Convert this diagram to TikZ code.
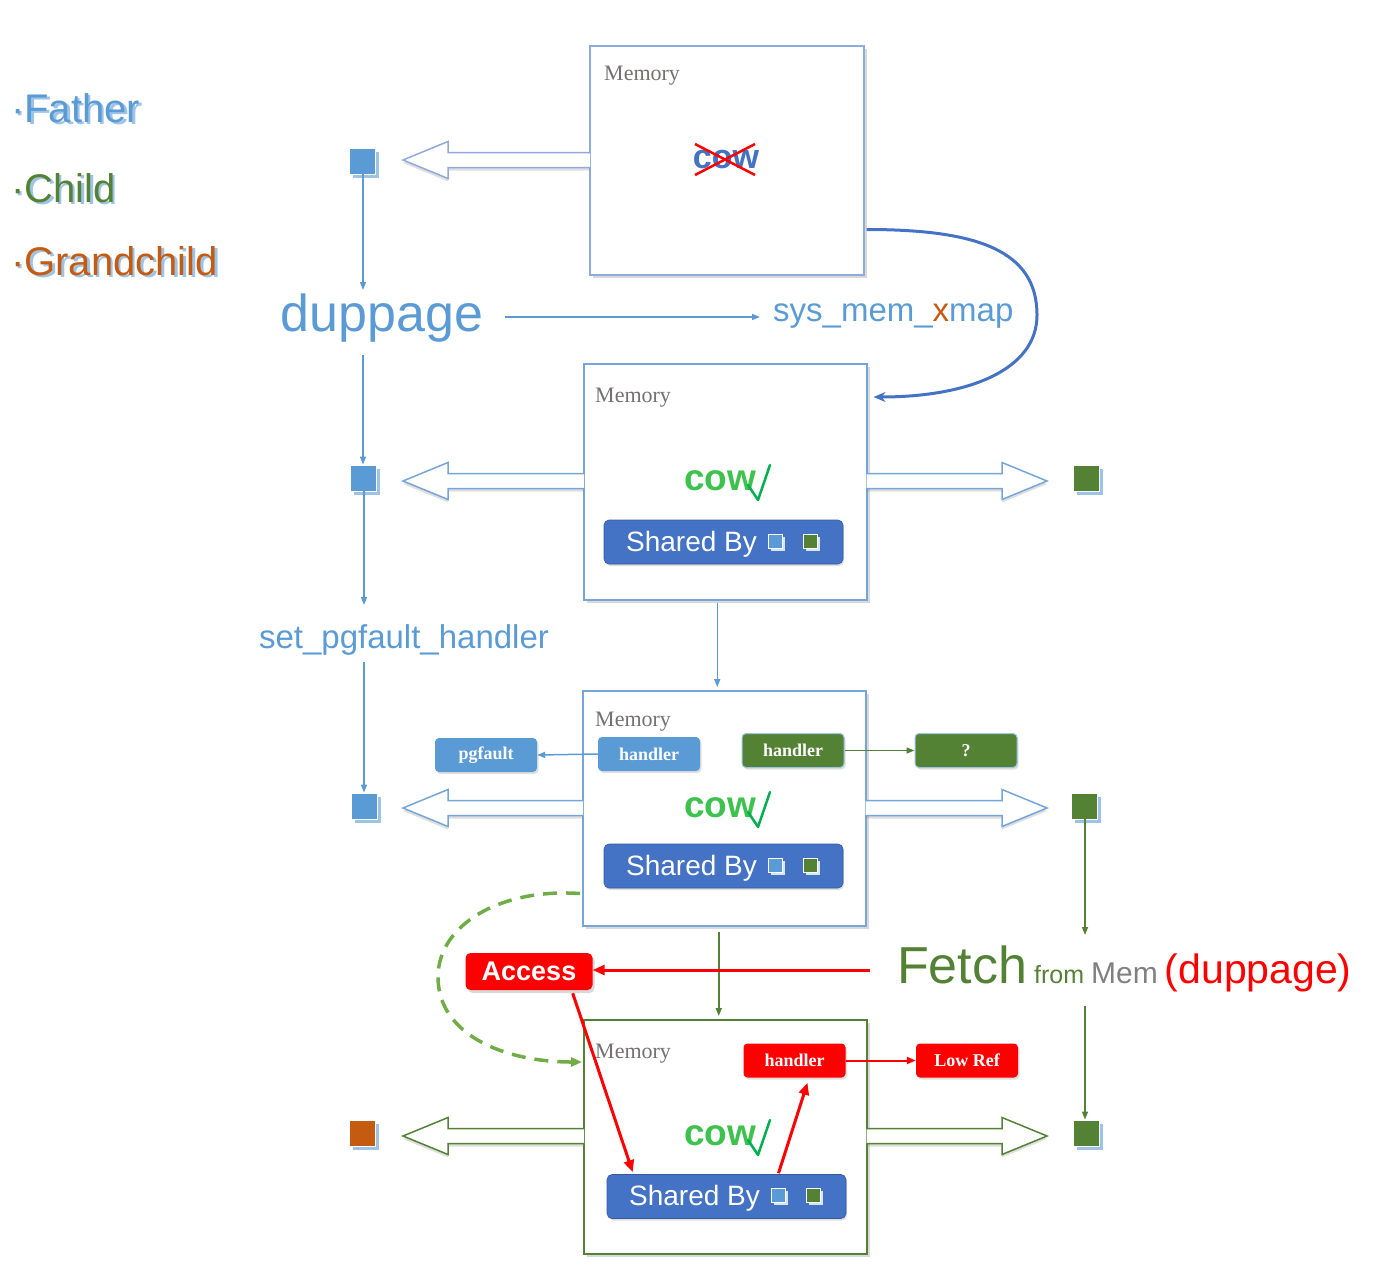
\documentclass[tikz,border=0pt]{standalone}
\usepackage{fontspec}
\setmainfont{Liberation Serif}
\setsansfont{Liberation Sans}
\usetikzlibrary{arrows.meta,calc,shadows}
\definecolor{fblue}{HTML}{5B9BD5}
\definecolor{dblue}{HTML}{4472C4}
\definecolor{bbord}{HTML}{8FAADC}
\definecolor{bbord2}{HTML}{75A5DA}
\definecolor{cgreen}{HTML}{548235}
\definecolor{lgreen}{HTML}{70AD47}
\definecolor{cowgreen}{HTML}{3EC24E}
\definecolor{chk}{HTML}{00B050}
\definecolor{gorange}{HTML}{C55A11}
\definecolor{shblue}{HTML}{9DC3E6}
\definecolor{memgray}{HTML}{767171}
\definecolor{myred}{HTML}{FF0000}
\newcommand{\fs}[1]{\fontsize{#1}{#1}\selectfont}
\newcommand{\hollowarrow}[4]{%
  \draw[harrow=#1] ($(#2 |- #3)+(#4*1,-7.5)$) -- ($(#3)+(#4*45,-7.5)$) -- ($(#3)+(#4*45,-18.5)$) -- (#3) -- ($(#3)+(#4*45,18.5)$) -- ($(#3)+(#4*45,7.5)$) -- ($(#2 |- #3)+(#4*1,7.5)$);}
\newcommand{\sharedbar}[3]{%
  \node[sbar] (#1) at (#2,#3) {};
  \node[bartext] (#1t) at ($(#1.center)+(-32,2)$) {Shared By};
  \node[minisq=fblue] (#1a) at ($(#1.center)+(52,-1)$) {};
  \node[minisq=cgreen] (#1b) at ($(#1.center)+(87,-1)$) {};}
\newcommand{\cowok}[3]{%
  \node[cowtext] (#1) at (#2,#3) {cow};
  \draw[chk, line width=2.5pt, line cap=round, line join=round] ($(#1.center)+(28,4)$) -- ($(#1.center)+(38,19)$) -- ($(#1.center)+(50,-16)$);}
\begin{document}
\begin{tikzpicture}[x=1pt,y=-1pt,
  membox/.style={draw=#1, line width=1.5pt, fill=white, inner sep=0, anchor=north west,
    drop shadow={shadow xshift=3pt,shadow yshift=-3pt,opacity=.3}},
  memlabel/.style={text=memgray, font=\fs{22}, anchor=west, inner sep=0},
  sqr/.style={fill=#1, draw=white, line width=.8pt, minimum size=26pt, inner sep=0,
    drop shadow={shadow xshift=4pt, shadow yshift=-4pt, fill=shblue, opacity=1}},
  minisq/.style={fill=#1, draw=white, line width=1pt, minimum size=14pt, inner sep=0,
    drop shadow={shadow xshift=2.5pt,shadow yshift=-2.5pt,fill=white!75!fblue,opacity=1}},
  sbar/.style={fill=dblue, draw=dblue!80!black, line width=.6pt, rounded corners=5pt,
    minimum width=239pt, minimum height=44pt, inner sep=0,
    drop shadow={shadow xshift=1pt,shadow yshift=-2pt,opacity=.25}},
  bartext/.style={text=white, font=\sffamily\fs{28}, inner sep=0},
  tag/.style={fill=#1, text=white, font=\bfseries\fs{18}, rounded corners=4pt,
    minimum width=102pt, minimum height=34pt, inner sep=0,
    drop shadow={shadow xshift=1.5pt,shadow yshift=-2pt,opacity=.25}},
  cowtext/.style={text=cowgreen, font=\sffamily\bfseries\fs{37}, inner sep=0},
  harrow/.style={draw=#1, line width=1.5pt, fill=white, line join=miter,
    drop shadow={shadow xshift=0pt,shadow yshift=-3pt,opacity=.25}},
  thinarrow/.style={draw=#1, line width=1.5pt, -{Triangle[length=8pt,width=6pt]}},
  thinarrow/.default=fblue,
  redarrow/.style={draw=myred, line width=3pt, -{Triangle[length=12pt,width=10pt]}},
  legend/.style={anchor=base west, inner sep=0, font=\sffamily\fs{40}},
  bigtext/.style={inner sep=0, font=\sffamily, text=fblue}
]
\useasboundingbox (0,0) rectangle (1383,1266);

% legend
\node[legend, text=shblue] (fatS) at (13.5,124.5) {·Father};
\node[legend, text=fblue] (fat) at (11,122) {·Father};
\node[legend, text=shblue] (chiS) at (13.5,204.5) {·Child};
\node[legend, text=cgreen] (chi) at (11,202) {·Child};
\node[legend, text=shblue] (graS) at (13.5,277.5) {·Grandchild};
\node[legend, text=gorange] (gra) at (11,275) {·Grandchild};

% memory boxes
\node[membox=bbord, minimum width=274pt, minimum height=229pt] (box1) at (589,45) {};
\node[membox=bbord2, minimum width=283pt, minimum height=236pt] (box2) at (583,363) {};
\node[membox=bbord2, minimum width=283pt, minimum height=235pt] (box3) at (582,690) {};
\node[membox=cgreen, minimum width=283pt, minimum height=234pt] (box4) at (583,1019) {};

% tip coordinates of the hollow arrows
\coordinate (tL1) at (403,160);
\coordinate (tL2) at (403,481);
\coordinate (tL3) at (403,808);
\coordinate (tL4) at (403,1136);
\coordinate (tR2) at (1047,481);
\coordinate (tR3) at (1047,808);
\coordinate (tR4) at (1047,1136);

\hollowarrow{bbord}{box1.west}{tL1}{1}
\hollowarrow{bbord2}{box2.west}{tL2}{1}
\hollowarrow{bbord2}{box2.east}{tR2}{-1}
\hollowarrow{bbord2}{box3.west}{tL3}{1}
\hollowarrow{bbord2}{box3.east}{tR3}{-1}
\hollowarrow{cgreen}{box4.west}{tL4}{1}
\hollowarrow{cgreen}{box4.east}{tR4}{-1}

% box contents
\node[memlabel] (mem1) at ($(box1.north west)+(15,31)$) {Memory};
\node[memlabel] (mem2) at ($(box2.north west)+(12,35)$) {Memory};
\node[memlabel] (mem3) at ($(box3.north west)+(13,32)$) {Memory};
\node[memlabel] (mem4) at ($(box4.north west)+(12,35)$) {Memory};

\node[text=dblue, font=\sffamily\bfseries\fs{34}, inner sep=0] (cowx) at (726,160) {cow};
\draw[myred, line width=2.5pt] ($(cowx.center)+(-31,-16)$) -- ($(cowx.center)+(29,15)$);
\draw[myred, line width=2.5pt] ($(cowx.center)+(-31,15)$) -- ($(cowx.center)+(29,-16)$);

\cowok{cow2}{720}{481}
\cowok{cow3}{720}{808}
\cowok{cow4}{720}{1136}

\sharedbar{bar2}{723.5}{542}
\sharedbar{bar3}{723.5}{866}
\sharedbar{bar4}{726.5}{1196.5}

\node[tag=fblue] (bh) at (649,754) {handler};
\node[tag=fblue] (pf) at (486,755) {pgfault};
\node[tag=cgreen, draw=shblue, line width=1pt] (gh) at (793,750.5) {handler};
\node[tag=cgreen, draw=shblue, line width=1pt] (qn) at (966,750.5) {?};
\node[tag=myred] (rh) at (794.5,1060.5) {handler};
\node[tag=myred] (lr) at (967,1060.5) {Low Ref};

\draw[thinarrow] (bh.west) -- (pf.east);
\draw[thinarrow=cgreen] (gh.east) -- (qn.west);
\draw[draw=myred, line width=2pt, -{Triangle[length=9pt,width=7pt]}] (rh.east) -- (lr.west);

% squares
\node[sqr=fblue] (fsq1) at (362,161) {};
\node[sqr=fblue] (fsq2) at (363,478) {};
\node[sqr=fblue] (fsq3) at (364,806) {};
\node[sqr=gorange] (gsq) at (362,1133) {};
\node[sqr=cgreen] (csq1) at (1086,478) {};
\node[sqr=cgreen] (csq2) at (1084,806) {};
\node[sqr=cgreen] (csq3) at (1086,1133) {};

% texts
\node[bigtext, anchor=base, font=\sffamily\fs{52}] (dup) at (382,331) {duppage};
\node[bigtext, anchor=base west, font=\sffamily\fs{33}] (sys) at (773,321) {sys\_mem\_{\color{gorange}x}map};
\node[bigtext, anchor=base, font=\sffamily\fs{33}] (pgh) at (404,648) {set\_pgfault\_handler};
\node[inner sep=0, anchor=base west, font=\sffamily\fs{25}] (fetch) at (897,983)
  {{\color{cgreen}\fs{52}Fetch} {\color{cgreen}from} {\color{gray}\fs{30}Mem} {\color{myred}\fs{41}(duppage)}};
\node[fill=myred, text=white, font=\sffamily\bfseries\fs{27}, rounded corners=5pt,
  minimum width=127pt, minimum height=37pt, inner sep=0,
  drop shadow={shadow xshift=2pt,shadow yshift=-3pt,opacity=.3}] (acc) at (529,971.5) {Access};

% connector end points beside texts
\coordinate (dupTop) at (363,290);
\coordinate (dupBot) at (363,355);
\coordinate (pgTop) at (364,605);
\coordinate (pgBot) at (364,662);
\coordinate (dupR) at (505,317);
\coordinate (sysL) at (760,317);
\coordinate (fetchTop) at (1085,935);
\coordinate (fetchBot) at (1085,1006);
\coordinate (fetchW) at (870,970);

% thin connectors
\draw[thinarrow] (fsq1.south -| dupTop) -- (dupTop);
\draw[thinarrow] (dupBot) -- (dupBot |- fsq2.north);
\draw[thinarrow] (fsq2.south -| pgTop) -- (pgTop);
\draw[thinarrow] (pgBot) -- (pgBot |- fsq3.north);
\draw[thinarrow] (dupR) -- (sysL);
\draw[thinarrow] ($(box2.south)+(-8,2)$) -- ($(box3.north)+(-7,-3)$);
\draw[thinarrow=cgreen] ($(box3.south)+(-5.5,5)$) -- ($(box4.north)+(-6.5,-3)$);
\draw[thinarrow=cgreen] (csq2.south -| fetchTop) -- (fetchTop);
\draw[thinarrow=cgreen] (fetchBot) -- (fetchBot |- csq3.north);

% curved xmap arrow
\draw[dblue, line width=3pt, -{Stealth[length=12pt,width=10pt]}]
  ($(box1.south east)+(2,-46)$) .. controls +(110,0) and +(0,-65) .. (1037,315)
  .. controls +(0,55) and +(95,0) .. ($(box2.north east)+(6,34)$);

% dashed loop
\draw[lgreen, line width=3.5pt, dash pattern=on 14pt off 9pt, -{Triangle[length=11pt,width=9pt]}]
  ($(box3.south west)+(-2,-33)$) .. controls (500,888) and (438,925) .. (438,977)
  .. controls (438,1035) and (505,1062) .. ($(box4.north west)+(-1,43)$);

% red connectors
\draw[redarrow] (fetchW) -- (fetchW -| acc.east);
\draw[redarrow] ($(acc.south east)+(-20,3)$) -- ($(bar4.north west)+(26,-2)$);
\draw[redarrow] ($(bar4.north)+(52,-1)$) -- ($(rh.south)+(13,5)$);
\end{tikzpicture}
\end{document}
